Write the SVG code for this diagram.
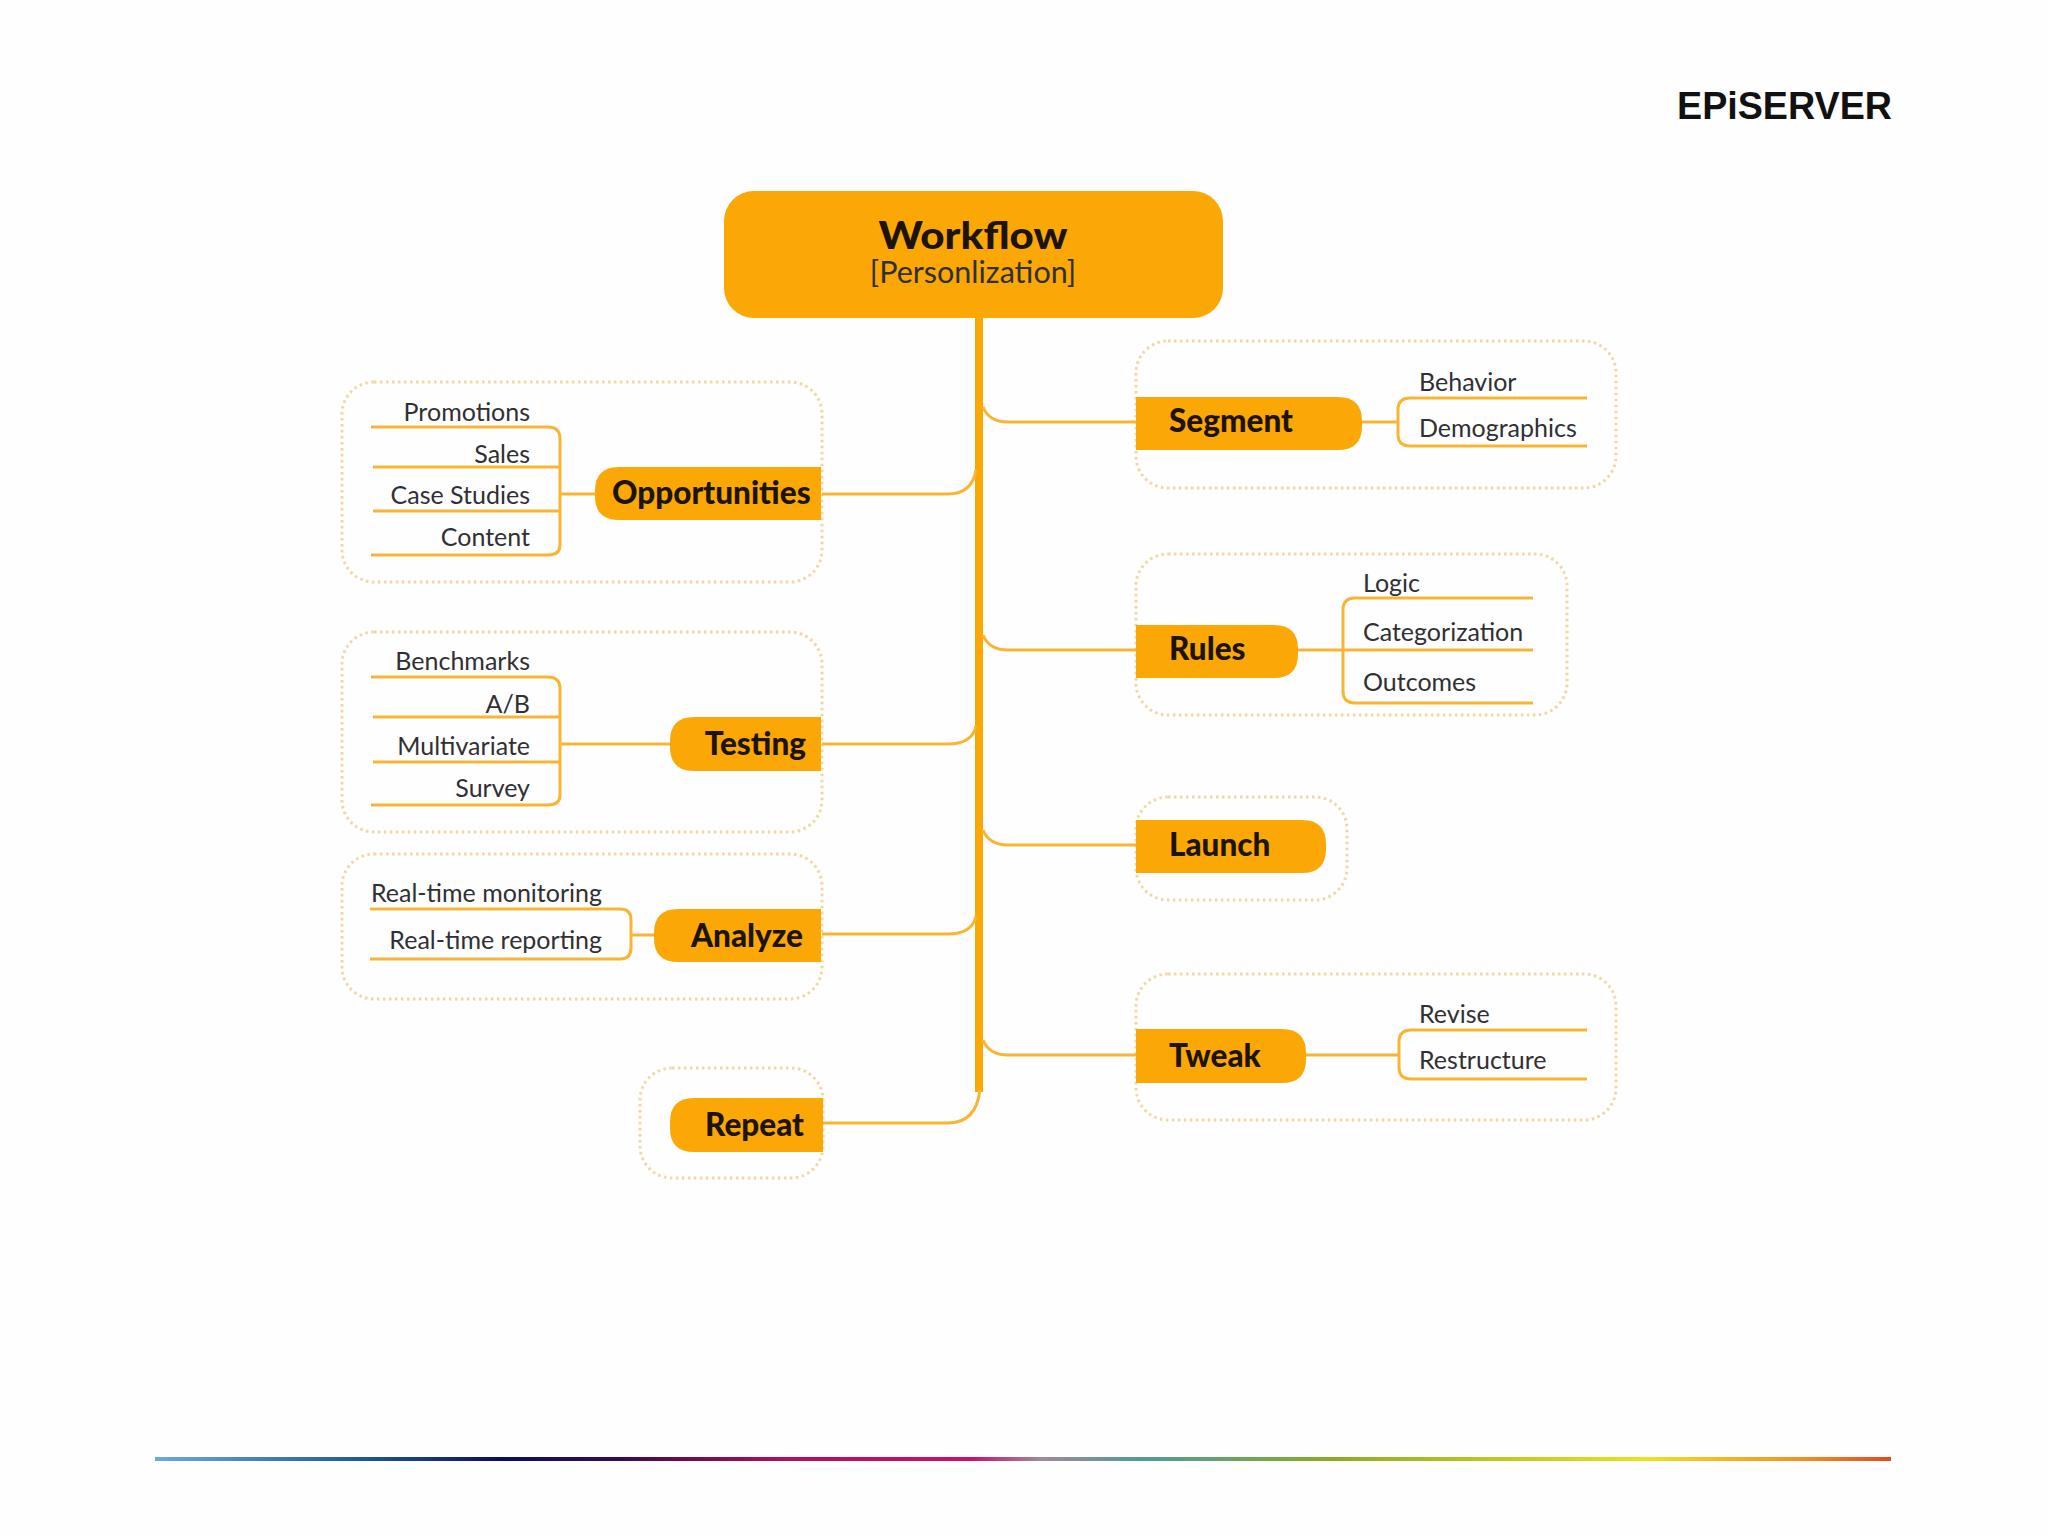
<svg xmlns="http://www.w3.org/2000/svg" width="2048" height="1536" viewBox="0 0 2048 1536">
<defs>
<linearGradient id="rainbow" x1="0" x2="1" y1="0" y2="0">
<stop offset="0" stop-color="#6fa8dc"/><stop offset=".12" stop-color="#1f5a8f"/><stop offset=".2" stop-color="#0a0f55"/><stop offset=".27" stop-color="#3a0a50"/><stop offset=".36" stop-color="#b0105c"/><stop offset=".47" stop-color="#c8106e"/><stop offset=".51" stop-color="#a08a9a"/><stop offset=".57" stop-color="#4f9a9a"/><stop offset=".68" stop-color="#8aae20"/><stop offset=".86" stop-color="#f0e020"/><stop offset=".95" stop-color="#f09020"/><stop offset="1" stop-color="#e04a20"/>
</linearGradient>
</defs>
<style>
.n{fill:#fba706}
.c{fill:none;stroke:#f8b432;stroke-width:3}
.t{fill:none;stroke:#fba706;stroke-width:8}
.b{fill:none;stroke:#f0d8a0;stroke-width:3;stroke-dasharray:2.5 3.5}
text{font-family:"Lato","Liberation Sans",sans-serif;fill:#303034}
.s{font-size:25px}
.e{text-anchor:end}
.h{font-size:31.5px;font-weight:900;fill:#1c1408}
</style>
<rect width="2048" height="1536" fill="#fefefe"/>
<text id="logo" x="1677" y="119" font-size="39" font-weight="700" textLength="215" lengthAdjust="spacingAndGlyphs" style="font-family:'Liberation Sans',sans-serif;fill:#111">EPiSERVER</text>
<rect id="rainbow-bar" x="155" y="1457" width="1736" height="4" fill="url(#rainbow)"/>

<g id="boundaries">
<rect class="b" x="342" y="382" width="480" height="200" rx="32"/>
<rect class="b" x="342" y="632" width="480" height="200" rx="32"/>
<rect class="b" x="342" y="854" width="480" height="145" rx="32"/>
<rect class="b" x="640" y="1068" width="183" height="110" rx="32"/>
<rect class="b" x="1136" y="341" width="480" height="147" rx="32"/>
<rect class="b" x="1136" y="554" width="431" height="161" rx="32"/>
<rect class="b" x="1136" y="797" width="211" height="103" rx="32"/>
<rect class="b" x="1136" y="974" width="480" height="146" rx="32"/>
</g>

<g id="connectors">
<path class="t" d="M979 317V1092"/>
<path class="c" d="M822 494H948Q972 494 976 470"/>
<path class="c" d="M822 744H948Q972 744 976 726"/>
<path class="c" d="M822 934H948Q972 934 976 916"/>
<path class="c" d="M823 1123H948Q976 1123 980 1090"/>
<path class="c" d="M983 407Q989 422 1008 422H1136"/>
<path class="c" d="M983 635Q989 650 1008 650H1136"/>
<path class="c" d="M983 830Q989 845 1008 845H1136"/>
<path class="c" d="M983 1040Q989 1055 1008 1055H1136"/>
<path class="c" d="M371 427H548Q560 427 560 439V545Q560 555 548 555H371M373 467H560M373 511H560M560 494H595"/>
<path class="c" d="M371 677H548Q560 677 560 689V795Q560 805 548 805H371M373 717H560M373 762H560M560 744H670"/>
<path class="c" d="M370 909H620Q631 909 631 920V948Q631 959 620 959H370M631 935H654"/>
<path class="c" d="M1587 398H1410Q1398 398 1398 410V434Q1398 446 1410 446H1587M1362 422H1398"/>
<path class="c" d="M1533 598H1355Q1343 598 1343 610V691Q1343 703 1355 703H1533M1298 650H1533"/>
<path class="c" d="M1587 1030H1411Q1399 1030 1399 1042V1067Q1399 1079 1411 1079H1587M1306 1055H1399"/>
</g>

<g id="workflow">
<rect class="n" x="724" y="191" width="499" height="127" rx="30"/>
<text x="973" y="249" text-anchor="middle" font-size="37" textLength="189" lengthAdjust="spacingAndGlyphs" style="font-weight:900;fill:#1c1408">Workflow</text>
<text x="973" y="283" text-anchor="middle" font-size="30.5">[Personlization]</text>
</g>

<g id="opportunities">
<path class="n" d="M821 467H619Q595 467 595 491V496Q595 520 619 520H821Z"/>
<text class="h" x="612" y="504">Opportunities</text>
<text class="s e" x="530" y="421">Promotions</text>
<text class="s e" x="530" y="463">Sales</text>
<text class="s e" x="530" y="504">Case Studies</text>
<text class="s e" x="530" y="546">Content</text>
</g>
<g id="testing">
<path class="n" d="M821 717H694Q670 717 670 741V747Q670 771 694 771H821Z"/>
<text class="h e" x="806" y="755">Testing</text>
<text class="s e" x="530" y="670">Benchmarks</text>
<text class="s e" x="530" y="713">A/B</text>
<text class="s e" x="530" y="755">Multivariate</text>
<text class="s e" x="530" y="797">Survey</text>
</g>
<g id="analyze">
<path class="n" d="M821 909H678Q654 909 654 933V938Q654 962 678 962H821Z"/>
<text class="h e" x="803" y="947">Analyze</text>
<text class="s e" x="602" y="902">Real-time monitoring</text>
<text class="s e" x="602" y="949">Real-time reporting</text>
</g>
<g id="repeat">
<path class="n" d="M823 1098H694Q670 1098 670 1122V1128Q670 1152 694 1152H823Z"/>
<text class="h e" x="804" y="1136">Repeat</text>
</g>
<g id="segment">
<path class="n" d="M1136 397H1338Q1362 397 1362 421V426Q1362 450 1338 450H1136Z"/>
<text class="h" x="1169" y="432">Segment</text>
<text class="s" x="1419" y="391">Behavior</text>
<text class="s" x="1419" y="437">Demographics</text>
</g>
<g id="rules">
<path class="n" d="M1136 625H1274Q1298 625 1298 649V654Q1298 678 1274 678H1136Z"/>
<text class="h" x="1169" y="660">Rules</text>
<text class="s" x="1363" y="592">Logic</text>
<text class="s" x="1363" y="641">Categorization</text>
<text class="s" x="1363" y="691">Outcomes</text>
</g>
<g id="launch">
<path class="n" d="M1136 820H1302Q1326 820 1326 844V849Q1326 873 1302 873H1136Z"/>
<text class="h" x="1169" y="856">Launch</text>
</g>
<g id="tweak">
<path class="n" d="M1136 1029H1282Q1306 1029 1306 1053V1059Q1306 1083 1282 1083H1136Z"/>
<text class="h" x="1169" y="1067">Tweak</text>
<text class="s" x="1419" y="1023">Revise</text>
<text class="s" x="1419" y="1069">Restructure</text>
</g>
</svg>
